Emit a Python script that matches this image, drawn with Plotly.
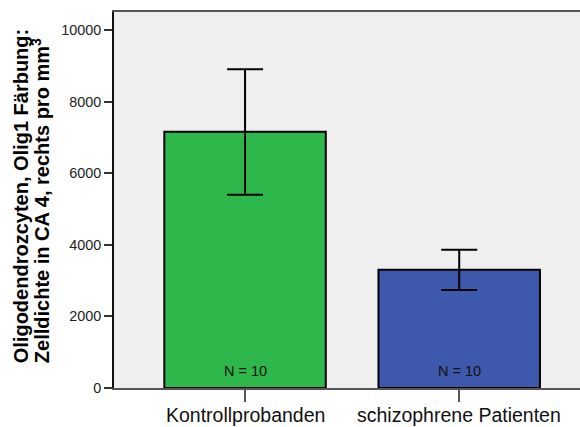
import plotly.graph_objects as go

categories = ["Kontrollprobanden", "schizophrene Patienten"]
means = [7160, 3300]
err_plus = [1745, 560]
err_minus = [1765, 565]
n_labels = ["N = 10", "N = 10"]
colors = ["#2eb84b", "#3e58ab"]
y_ticks = [0, 2000, 4000, 6000, 8000, 10000]
y_tick_text = ["0", "2000", "4000", "6000", "8000", "10000"]

FONT = "Arial, Liberation Sans, sans-serif"

fig = go.Figure()
fig.add_trace(go.Bar(
    x=[0, 1], y=means, width=0.754,
    marker=dict(color=colors, line=dict(color="black", width=2)),
    error_y=dict(type="data", symmetric=False, array=err_plus, arrayminus=err_minus,
                 color="black", thickness=2, width=18),
    showlegend=False, hoverinfo="skip",
))

for i, t in enumerate(n_labels):
    fig.add_annotation(x=i, y=0, xref="x", yref="y", text=t, showarrow=False,
                       yanchor="middle", yshift=17,
                       font=dict(family=FONT, size=14.5, color="#111"))

for i, t in enumerate(categories):
    fig.add_annotation(x=i, y=0, xref="x", yref="paper", text=t, showarrow=False,
                       yanchor="top", yshift=-14,
                       font=dict(family=FONT, size=19.5, color="#111"))

fig.add_annotation(x=0, y=0.51, xref="paper", yref="paper", xanchor="center", yanchor="middle",
                   xshift=-93, text="<b>Oligodendrozcyten, Olig1 Färbung:</b>", textangle=-90,
                   showarrow=False, font=dict(family=FONT, size=20, color="black"))
fig.add_annotation(x=0, y=0.497, xref="paper", yref="paper", xanchor="center", yanchor="middle",
                   xshift=-74, text="<b>Zelldichte in CA 4, rechts pro mm<sup>3</sup></b>", textangle=-90,
                   showarrow=False, font=dict(family=FONT, size=20, color="black"))

fig.update_layout(
    width=580, height=427,
    margin=dict(l=114, r=0, t=12, b=39, autoexpand=False),
    paper_bgcolor="white", plot_bgcolor="#efefef",
    font=dict(family=FONT, color="#222"),
    xaxis=dict(range=[-0.612, 1.564], tickmode="array", tickvals=[0, 1], showticklabels=False,
               ticks="outside", ticklen=12, tickwidth=1.5, tickcolor="#555",
               showline=True, linecolor="#555", linewidth=1.5, mirror=True, automargin=False,
               showgrid=False, zeroline=False),
    yaxis=dict(range=[0, 10502], tickmode="array", tickvals=y_ticks, ticktext=y_tick_text,
               ticks="outside", ticklen=8, tickwidth=1.5, tickcolor="#333", automargin=False,
               showline=True, linecolor="#111", linewidth=1.5,
               showgrid=False, zeroline=False, tickfont=dict(size=14.4, color="#222")),
)

fig.write_html("out.html", config={"displayModeBar": False},
               post_script="document.body.style.margin='0';document.body.style.overflow='hidden';")
